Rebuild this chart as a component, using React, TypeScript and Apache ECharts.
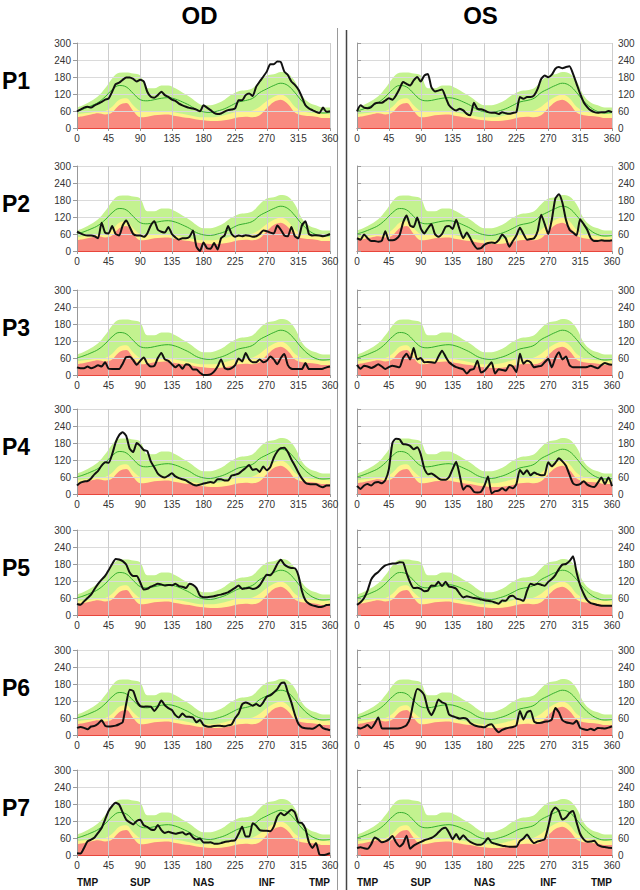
import React, { useEffect, useRef } from "react";
import * as echarts from "echarts";

// ---------- normative bands (every 10°) ----------
const NORM_DEG = [0,10,20,30,40,50,60,70,80,90,100,110,120,130,140,150,160,170,180,190,200,210,220,230,240,250,260,270,280,290,300,310,320,330,340,350,360];
const NORM_GREEN = [72,82,95,112,140,175,195,196,192,185,140,140,150,150,140,125,110,92,80,80,87,100,118,130,133,140,165,185,190,198,192,165,115,90,80,72,72];
const NORM_YELLOW = [48,52,55,58,60,75,100,105,80,60,58,58,60,58,55,50,45,40,38,38,40,45,52,58,58,62,75,95,110,118,105,75,60,55,52,50,48];
const NORM_RED = [38,42,48,52,48,55,80,88,60,38,40,45,47,48,42,38,35,30,27,25,25,27,32,38,40,38,45,70,92,100,85,55,45,42,40,35,35];
const NORM_MEAN = [60,68,78,90,110,135,150,145,122,100,96,100,105,107,102,92,80,65,57,55,60,68,80,92,97,105,125,138,150,158,150,125,95,72,58,53,55];

// ---------- patient profiles (every 5°) ----------
const PROFILE_DEG = [0,5,10,15,20,25,30,35,40,45,50,55,60,65,70,75,80,85,90,95,100,105,110,115,120,125,130,135,140,145,150,155,160,165,170,175,180,185,190,195,200,205,210,215,220,225,230,235,240,245,250,255,260,265,270,275,280,285,290,295,300,305,310,315,320,325,330,335,340,345,350,355,360];

const P1_OD = [59,65,72,75,72,80,86,92,100,104,128,155,160,170,178,178,173,164,170,164,128,110,107,116,128,116,110,100,96,86,80,75,71,69,65,59,80,72,63,53,49,51,58,63,65,69,98,98,116,122,113,146,164,181,199,225,225,235,233,199,187,164,152,136,110,80,69,63,57,53,72,57,59];
const P1_OS = [59,80,72,70,74,86,89,89,97,105,100,115,138,162,156,150,168,180,164,185,191,144,129,132,136,109,80,68,62,68,62,50,45,89,68,66,62,56,54,54,49,56,52,50,53,56,109,103,109,109,115,138,173,185,179,188,209,215,211,215,218,191,156,121,91,74,62,56,54,56,56,60,56];
const P2_OD = [68,62,57,55,55,52,45,100,65,62,88,60,55,90,108,85,60,55,55,50,62,90,105,75,68,65,85,60,48,40,45,45,50,72,15,0,30,10,8,28,5,45,55,88,60,50,55,52,56,54,50,52,60,72,70,65,62,90,75,55,52,85,52,45,90,105,60,55,56,55,52,55,60];
const P2_OS = [45,40,58,45,35,35,33,36,70,38,38,42,55,100,125,90,85,118,80,62,80,95,60,50,60,85,88,78,110,75,45,65,45,22,8,10,22,28,30,28,38,58,45,15,35,55,82,60,40,42,45,70,128,95,60,110,185,200,170,110,75,65,55,112,95,75,45,35,35,38,36,36,38];
const P3_OD = [27,24,24,30,24,28,34,30,45,22,21,21,21,40,63,64,52,36,50,62,40,30,32,60,78,55,50,38,27,36,22,38,35,19,19,8,0,0,2,12,30,55,25,20,24,35,58,48,78,55,45,45,55,45,50,65,55,38,60,74,35,22,21,21,21,42,21,21,21,21,22,27,30];
const P3_OS = [36,22,33,30,25,30,38,30,21,28,33,30,27,60,75,55,95,55,60,45,46,45,43,65,86,65,45,35,28,24,20,5,18,22,50,9,15,30,45,5,20,18,15,35,30,10,75,40,50,45,27,30,32,45,57,27,60,80,55,65,35,27,27,27,27,28,33,28,24,35,42,38,36];
const P4_OD = [30,40,44,46,55,70,82,100,112,110,140,182,208,218,205,160,148,180,170,155,152,115,94,72,62,58,65,73,62,56,52,48,40,33,30,33,37,40,42,40,52,52,48,48,65,68,72,82,92,102,85,88,78,97,84,95,128,150,162,163,148,122,100,76,55,40,35,34,34,28,24,30,30];
const P4_OS = [28,18,30,35,30,40,42,38,49,88,180,195,193,176,175,170,158,165,140,90,70,72,65,55,50,50,60,88,114,66,15,28,25,8,5,8,30,62,2,10,12,20,12,25,20,35,85,70,84,66,76,70,66,68,112,98,110,126,115,100,68,38,32,35,45,33,27,25,40,58,35,58,28];
const P5_OD = [39,36,48,60,72,92,110,125,138,158,180,198,196,190,178,150,138,138,115,90,92,100,105,110,108,104,106,105,110,102,100,95,110,106,95,68,63,63,64,66,70,72,76,80,88,96,104,92,94,96,92,95,105,125,142,140,155,180,195,178,170,166,165,140,85,52,40,34,31,28,30,35,36];
const P5_OS = [36,45,60,87,125,142,152,165,175,179,182,182,186,185,148,115,95,96,92,84,86,104,103,117,102,117,100,98,93,75,62,66,63,60,58,55,52,50,48,44,40,51,50,65,68,58,55,50,85,110,106,110,107,103,117,127,141,162,178,180,190,207,150,105,75,52,42,39,35,33,33,33,33];
const P6_OD = [25,28,25,20,30,32,40,52,33,30,31,33,38,45,110,160,155,120,102,100,101,100,85,100,122,105,95,88,70,62,76,65,64,62,45,53,35,30,29,32,33,32,31,34,37,60,76,108,115,110,103,109,102,115,135,140,150,162,182,185,150,115,72,40,27,24,23,22,28,36,24,20,17];
const P6_OS = [27,23,28,35,24,40,62,24,23,23,23,23,24,28,35,60,120,162,156,140,92,70,93,125,115,110,72,66,62,58,60,57,42,35,31,29,27,35,38,22,10,18,23,26,28,34,85,55,80,86,48,42,43,47,48,55,95,80,52,45,42,40,50,25,20,18,22,17,25,24,23,26,31];
const P7_OD = [6,5,25,48,54,62,78,95,125,155,173,184,178,150,125,115,108,120,124,105,99,90,88,106,88,78,82,78,75,78,80,72,77,62,55,58,44,44,45,40,40,42,46,48,50,52,75,100,65,65,112,103,88,86,86,84,100,135,148,140,150,160,150,115,113,92,45,25,42,2,0,2,6];
const P7_OS = [25,27,24,22,38,62,55,45,48,55,67,45,30,40,68,22,33,40,46,52,56,60,68,80,92,96,78,56,74,55,70,56,46,40,36,36,45,60,44,40,36,33,31,29,29,29,50,58,72,55,42,48,51,56,100,152,168,155,125,132,148,155,115,75,55,47,48,50,35,30,28,26,25];

const ROW_NAMES = ["P1","P2","P3","P4","P5","P6","P7"];
const OD_PROFILES = [P1_OD,P2_OD,P3_OD,P4_OD,P5_OD,P6_OD,P7_OD];
const OS_PROFILES = [P1_OS,P2_OS,P3_OS,P4_OS,P5_OS,P6_OS,P7_OS];
const EYE_TITLES = ["OD","OS"];
const REGION_NAMES = ["TMP","SUP","NAS","INF","TMP"];
const REGION_DEG = [0,90,180,270,360];

// ---------- layout / style ----------
const ROW_TOPS = [43,166,290,409,530,650,770];
const PLOT_H = 85;
const SIDE_LEFT = [77,357];
const SIDE_WIDTH = [253,255];
const FONT = "'Liberation Sans', Arial, sans-serif";
const C_GREEN = "#c3f28f";
const C_YELLOW = "#fdf48c";
const C_RED = "#f98b80";
const C_MEAN = "#34ad2f";

const pairs = (xs: number[], ys: number[]) => xs.map((x, i) => [x, ys[i]]);

function buildOption() {
  const grid: any[] = [];
  const xAxis: any[] = [];
  const yAxis: any[] = [];
  const series: any[] = [];
  ROW_NAMES.forEach((_, r) => {
    [0, 1].forEach((side) => {
      const idx = grid.length;
      grid.push({ left: SIDE_LEFT[side], width: SIDE_WIDTH[side], top: ROW_TOPS[r], height: PLOT_H });
      xAxis.push({
        type: "value", gridIndex: idx, min: 0, max: 360, interval: 45, z: 3,
        axisLine: { show: true, lineStyle: { color: "#e8463c", width: 1.2 } },
        axisTick: { show: true, length: 3, lineStyle: { color: "#999" } },
        axisLabel: { fontSize: 10, color: "#333", margin: 5, fontFamily: FONT },
        splitLine: { show: true, lineStyle: { color: "#cdcdcd", width: 1 } },
      });
      yAxis.push({
        type: "value", gridIndex: idx, min: 0, max: 300, interval: 60, z: 3,
        position: side === 0 ? "left" : "right",
        axisLine: { show: true, lineStyle: { color: "#999" } },
        axisTick: { show: true, length: 4, lineStyle: { color: "#999" } },
        axisLabel: { fontSize: 10, color: "#333", margin: 6, fontFamily: FONT },
        splitLine: { show: true, lineStyle: { color: "#dadada", width: 1 } },
      });
      const band = (vals: number[], color: string) => ({
        type: "line", xAxisIndex: idx, yAxisIndex: idx, data: pairs(NORM_DEG, vals),
        showSymbol: false, symbol: "none", smooth: 0.35, silent: true,
        lineStyle: { width: 0 }, areaStyle: { color, opacity: 1 }, z: 1,
      });
      series.push(band(NORM_GREEN, C_GREEN));
      series.push(band(NORM_YELLOW, C_YELLOW));
      series.push(band(NORM_RED, C_RED));
      series.push({
        type: "line", xAxisIndex: idx, yAxisIndex: idx, data: pairs(NORM_DEG, NORM_MEAN),
        symbol: "none", smooth: 0.4, lineStyle: { width: 1, color: C_MEAN }, z: 4,
      });
      const prof = side === 0 ? OD_PROFILES[r] : OS_PROFILES[r];
      series.push({
        type: "line", xAxisIndex: idx, yAxisIndex: idx, data: pairs(PROFILE_DEG, prof),
        symbol: "none", smooth: 0.2, lineStyle: { width: 2, color: "#111" }, z: 5,
      });
    });
  });

  const graphic: any[] = [];
  EYE_TITLES.forEach((t, side) => {
    graphic.push({
      type: "text", id: "title" + side,
      x: SIDE_LEFT[side] + SIDE_WIDTH[side] / 2 - 4, y: 15,
      style: { text: t, font: `bold 24px ${FONT}`, fill: "#000", align: "center", verticalAlign: "middle" },
    });
  });
  ROW_NAMES.forEach((n, r) => {
    graphic.push({
      type: "text", id: "row" + r, x: 2, y: ROW_TOPS[r] + 38,
      style: { text: n, font: `bold 23px ${FONT}`, fill: "#000", align: "left", verticalAlign: "middle" },
    });
  });
  graphic.push({ type: "line", id: "div1", shape: { x1: 337.5, y1: 28, x2: 337.5, y2: 890 }, style: { stroke: "#9a9a9a", lineWidth: 1 } });
  graphic.push({ type: "line", id: "div2", shape: { x1: 346.5, y1: 30, x2: 346.5, y2: 890 }, style: { stroke: "#444", lineWidth: 1.5 } });

  return {
    animation: false,
    backgroundColor: "#fff",
    grid, xAxis, yAxis, series, graphic,
  };
}

export default function App() {
  const ref = useRef<HTMLDivElement>(null);
  useEffect(() => {
    if (!ref.current) return;
    const chart = echarts.init(ref.current, undefined, { renderer: "svg" });
    chart.setOption(buildOption());
    // region labels under the last row, placed through the axis scale
    const extra: any[] = [];
    [0, 1].forEach((side) => {
      const axisIdx = (ROW_NAMES.length - 1) * 2 + side;
      REGION_NAMES.forEach((name, k) => {
        const px = chart.convertToPixel({ xAxisIndex: axisIdx } as any, REGION_DEG[k]) as number;
        const align = k === 0 ? "left" : k === REGION_NAMES.length - 1 ? "right" : "center";
        extra.push({
          type: "text", id: `reg${side}_${k}`, x: px, y: ROW_TOPS[ROW_TOPS.length - 1] + PLOT_H + 27,
          style: { text: name, font: `bold 10px ${FONT}`, fill: "#111", align, verticalAlign: "middle" },
        });
      });
    });
    chart.setOption({ graphic: extra });
    return () => chart.dispose();
  }, []);
  return <div ref={ref} style={{ position: "absolute", left: 0, top: 0, width: 640, height: 890 }} />;
}
